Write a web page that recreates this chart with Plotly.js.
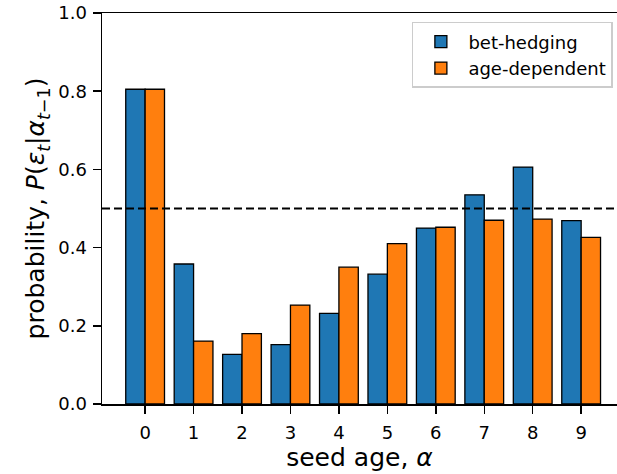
<!DOCTYPE html>
<html>
<head>
<meta charset="utf-8">
<script src="https://cdn.plot.ly/plotly-3.0.1.min.js"></script>
<style>html,body{margin:0;padding:0;background:#fff;overflow:hidden;}#chart{width:617px;height:474px;}</style>
</head>
<body>
<div id="chart"></div>
<script>
const seedAges = [0, 1, 2, 3, 4, 5, 6, 7, 8, 9];
const betHedging = [0.805, 0.358, 0.127, 0.152, 0.232, 0.332, 0.450, 0.535, 0.606, 0.469];
const ageDependent = [0.805, 0.161, 0.180, 0.253, 0.350, 0.410, 0.452, 0.470, 0.473, 0.426];
const seriesNames = ['bet-hedging', 'age-dependent'];
const threshold = 0.5;
const yTicks = [0.0, 0.2, 0.4, 0.6, 0.8, 1.0];
const yTickText = ['0.0', '0.2', '0.4', '0.6', '0.8', '1.0'];

const font = 'DejaVu Sans, sans-serif';
const traces = [
  {type: 'bar', x: seedAges, y: betHedging, name: seriesNames[0],
   marker: {color: '#1f77b4', line: {color: '#000', width: 1.3}}},
  {type: 'bar', x: seedAges, y: ageDependent, name: seriesNames[1],
   marker: {color: '#ff7f0e', line: {color: '#000', width: 1.3}}}
];
const layout = {
  width: 617, height: 474,
  margin: {l: 102, r: 0, t: 13, b: 70},
  paper_bgcolor: '#fff', plot_bgcolor: '#fff',
  barmode: 'group', bargap: 0.2, bargroupgap: 0,
  font: {family: font, color: '#000', size: 18},
  xaxis: {range: [-0.89, 9.74], tickvals: seedAges, ticktext: seedAges.map(String),
    showgrid: false, zeroline: false, showline: true, linecolor: '#000', linewidth: 1.5,
    mirror: true, ticks: 'outside', ticklen: 8, tickwidth: 1.5, tickcolor: '#000',
    ticklabelstandoff: 4,
    tickfont: {family: font, size: 18, color: '#000'},
    title: {text: 'seed age, <i>α</i>', font: {family: font, size: 25, color: '#000'}, standoff: 4}},
  yaxis: {range: [0, 1], tickvals: yTicks, ticktext: yTickText,
    showgrid: false, zeroline: false, showline: true, linecolor: '#000', linewidth: 1.5,
    ticks: 'outside', ticklen: 8, tickwidth: 1.5, tickcolor: '#000',
    ticklabelstandoff: 2,
    tickfont: {family: font, size: 18, color: '#000'},
    title: {text: 'probability, <i>P</i>(<i>ε</i><sub><i>t</i></sub>|<i>α</i><sub><i>t</i>−1</sub>)',
      font: {family: font, size: 25, color: '#000'}, standoff: 6}},
  legend: {x: 0.992, y: 0.977, xanchor: 'right', yanchor: 'top',
    bgcolor: 'rgba(255,255,255,0.8)', bordercolor: '#ccc', borderwidth: 1.5,
    itemwidth: 45,
    font: {family: font, size: 18, color: '#000'}, tracegroupgap: 0},
  shapes: [{type: 'line', xref: 'paper', x0: 0, x1: 1, yref: 'y', y0: threshold, y1: threshold,
    line: {color: '#000', width: 2.2, dash: '8px,4px'}}]
};
Plotly.newPlot('chart', traces, layout, {displayModeBar: false, staticPlot: true});
</script>
</body>
</html>
